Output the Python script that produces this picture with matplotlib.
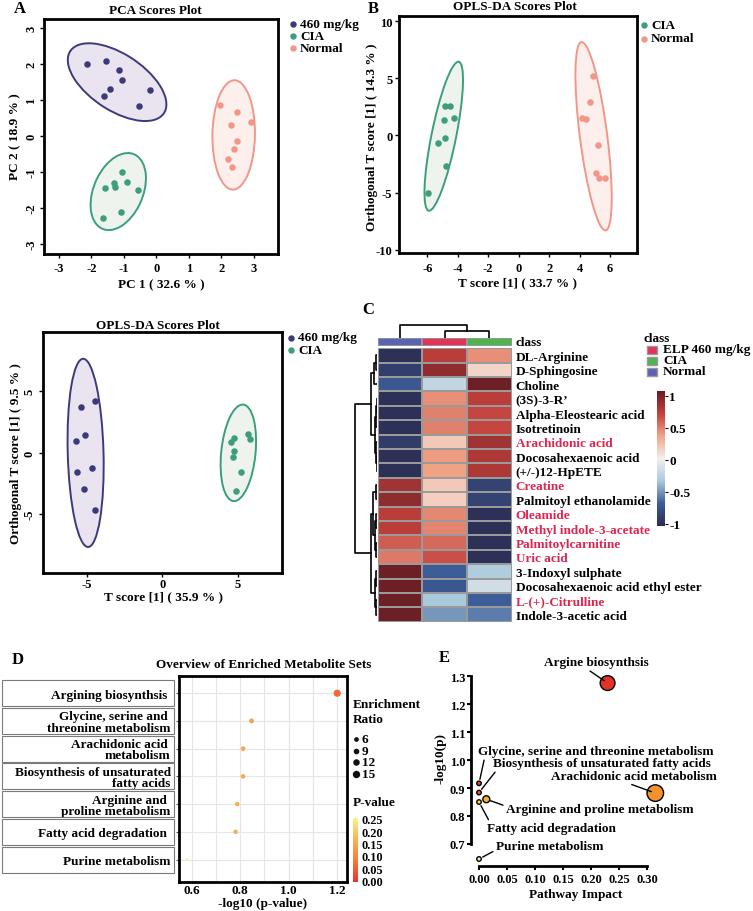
import numpy as np
import matplotlib
matplotlib.use('Agg')
import matplotlib.pyplot as plt
from matplotlib.patches import Ellipse, Rectangle
from matplotlib.lines import Line2D
from matplotlib.colors import LinearSegmentedColormap, Normalize
from matplotlib.colorbar import ColorbarBase
from matplotlib.transforms import blended_transform_factory

plt.rcParams['font.family'] = ['Liberation Serif', 'DejaVu Serif']
plt.rcParams['font.weight'] = 'bold'
plt.rcParams['axes.labelweight'] = 'bold'
plt.rcParams['axes.titleweight'] = 'bold'
plt.rcParams['axes.unicode_minus'] = False

# ---- data ----
# A: PCA scores
pca_460_x = [-2.15, -1.55, -1.15, -1.05, -1.44, -1.6, -0.2, -0.55]
pca_460_y = [2.0, 2.07, 1.82, 1.55, 1.3, 1.1, 1.28, 0.84]
pca_cia_x = [-1.06, -1.3, -1.27, -0.9, -0.58, -1.58, -1.08, -1.63]
pca_cia_y = [-1.0, -1.31, -1.43, -1.27, -1.5, -1.44, -2.12, -2.29]
pca_nor_x = [1.97, 2.47, 2.29, 2.9, 2.48, 2.38, 2.2, 2.32]
pca_nor_y = [0.85, 0.67, 0.31, 0.39, -0.13, -0.37, -0.64, -0.85]

# B: OPLS-DA CIA vs Normal
opb_cia_x = [-4.84, -4.53, -4.9, -4.23, -4.86, -5.28, -4.77, -5.96]
opb_cia_y = [2.57, 2.57, 1.32, 1.56, -0.24, -0.65, -2.65, -5.0]
opb_nor_x = [4.9, 4.66, 4.16, 4.42, 5.23, 5.06, 5.26, 5.65]
opb_nor_y = [5.2, 2.9, 1.53, 1.47, -0.82, -3.32, -3.74, -3.74]

# OPLS-DA 460 mg/kg vs CIA
opc_460_x = [-4.47, -5.37, -5.09, -5.68, -5.62, -4.65, -5.15, -4.47]
opc_460_y = [4.17, 3.71, 1.46, 0.95, -1.54, -1.27, -3.0, -4.63]
opc_cia_x = [4.54, 4.74, 4.74, 4.67, 5.68, 5.79, 5.24, 4.87]
opc_cia_y = [0.89, 1.19, 0.16, -0.33, 1.54, 1.11, -1.6, -3.09]

# C: heatmap (row-scaled)
hm_rows = ['DL-Arginine', 'D-Sphingosine', 'Choline', '(3S)-3-R\u2019',
           'Alpha-Eleostearic acid', 'Isotretinoin', 'Arachidonic acid',
           'Docosahexaenoic acid', '(+/-)12-HpETE', 'Creatine',
           'Palmitoyl ethanolamide', 'Oleamide', 'Methyl indole-3-acetate',
           'Palmitoylcarnitine', 'Uric acid', '3-Indoxyl sulphate',
           'Docosahexaenoic acid ethyl ester', 'L-(+)-Citrulline',
           'Indole-3-acetic acid']
hm_red = ['Arachidonic acid', 'Creatine', 'Oleamide', 'Methyl indole-3-acetate',
          'Palmitoylcarnitine', 'Uric acid', 'L-(+)-Citrulline']
hm_cols = ['Normal', 'ELP 460 mg/kg', 'CIA']
hm_normal = [-1.0, -0.9, -0.72, -1.0, -1.0, -1.0, -0.92, -1.0, -1.0, 0.85,
             0.92, 0.75, 0.75, 0.62, 0.52, 1.05, 1.05, 1.05, 1.05]
hm_elp = [0.75, 0.92, -0.22, 0.45, 0.5, 0.5, 0.2, 0.4, 0.38, 0.2,
          0.17, 0.47, 0.48, 0.58, 0.67, -0.68, -0.72, -0.33, -0.5]
hm_cia = [0.45, 0.15, 1.05, 0.75, 0.7, 0.7, 0.85, 0.8, 0.8, -0.87,
          -0.87, -1.0, -1.0, -1.0, -1.0, -0.3, -0.15, -0.68, -0.58]
# dendrograms: (height, left, right) or leaf index
row_tree = (1.0,
            (0.29, (0.12, (0.06, 0, 1), 2),
             (0.08, (0.04, (0.02, 3, 4), 5), (0.05, 6, (0.02, 7, 8)))),
            (0.29, (0.2, (0.06, 9, 10), (0.1, (0.04, 11, 12), (0.05, 13, 14))),
             (0.1, (0.05, 15, 16), (0.06, 17, 18))))
col_tree = (1.0, 0, (0.48, 1, 2))

# D: enrichment overview
d_sets = ['Argining biosynthsis ', 'Glycine, serine and \nthreonine metabolism',
          'Arachidonic acid \nmetabolism', 'Biosynthesis of unsaturated\nfatty acids',
          'Arginine and \nproline metabolism', 'Fatty acid degradation ',
          'Purine metabolism']
d_logp = [1.2, 0.847, 0.812, 0.812, 0.788, 0.781, 0.581]
d_ratio = [19, 11, 10.5, 10.5, 10, 10, 4]
d_ratio_legend = [6, 9, 12, 15]

# E: pathway impact
e_paths = ['Argine biosynthsis', 'Glycine, serine and threonine metabolism',
           'Biosynthesis of unsaturated fatty acids', 'Arachidonic acid metabolism',
           'Arginine and proline metabolism', 'Fatty acid degradation',
           'Purine metabolism']
e_impact = [0.229, 0.0, 0.0, 0.314, 0.013, 0.0, 0.0]
e_logp = [1.276, 0.917, 0.884, 0.882, 0.86, 0.85, 0.646]

# ---- style ----
C460, F460 = '#3c3b7a', '#e9e4ef'
CCIA, FCIA = '#3b9e7c', '#eef3ee'
CNOR, FNOR = '#f2968a', '#fdf0ec'
RED_LAB = '#e0264f'
e_colors = ['#e4322b', '#e8462a', '#ee5a2b', '#f5922c', '#f6b231', '#f4dc45', '#f7f1a8']
e_offsets = [(-8, 15), (-1, 23), (10, 21), (-75, 12.5), (14, -6.7), (6, -19), (12, 9)]
e_ha = ['center', 'left', 'left', 'left', 'left', 'left', 'left']
e_relpos = [(0.4, 0), (0.03, 0), (0.02, 0), (0.44, 0), (0, 0.7), (0.02, 1), (0, 0.2)]

W, H = 753, 912
fig = plt.figure(figsize=(W / 100, H / 100), dpi=100)
FS = 9.5


def px_axes(x0, y0, x1, y1):
    return fig.add_axes([x0 / W, 1 - y1 / H, (x1 - x0) / W, (y1 - y0) / H])


def ftext(x, y, s, **kw):
    kw.setdefault('fontsize', FS)
    kw.setdefault('va', 'center')
    fig.text(x / W, 1 - y / H, s, **kw)


def fig_dot(x, y, d_px, color, edge=None):
    fig.add_artist(Line2D([x / W], [1 - y / H], transform=fig.transFigure, marker='o',
                          ms=d_px * 0.72, color=color, mec=edge or color, ls='none'))


def conf_ellipse(ax, x, y, edge, face, k=2.4477):
    x = np.asarray(x)
    y = np.asarray(y)
    vals, vecs = np.linalg.eigh(np.cov(x, y))
    vals, vecs = vals[::-1], vecs[:, ::-1]
    ang = np.degrees(np.arctan2(vecs[1, 0], vecs[0, 0]))
    ax.add_patch(Ellipse((x.mean(), y.mean()), 2 * k * np.sqrt(vals[0]),
                         2 * k * np.sqrt(vals[1]), angle=ang, facecolor=face,
                         edgecolor=edge, lw=1.4, zorder=1))


def scores_panel(box, groups, xlim, ylim, xticks, yticks, rot, xpad):
    ax = px_axes(*box)
    for gx, gy, c, f in groups:
        conf_ellipse(ax, gx, gy, c, f)
        ax.scatter(gx, gy, s=22, color=c, zorder=3, lw=0)
    ax.set_xlim(xlim)
    ax.set_ylim(ylim)
    ax.set_xticks(xticks)
    ax.set_yticks(yticks)
    ax.tick_params(direction='out', length=3, width=1, labelsize=9)
    ax.tick_params(axis='x', pad=xpad)
    ax.tick_params(axis='y', pad=2)
    if rot:
        for t in ax.get_yticklabels():
            t.set_rotation(90)
            t.set_va('center')
    for s in ax.spines.values():
        s.set_linewidth(2)
    return ax


# ---- panel A ----
scores_panel((44, 20, 278, 255),
             [(pca_460_x, pca_460_y, C460, F460), (pca_cia_x, pca_cia_y, CCIA, FCIA),
              (pca_nor_x, pca_nor_y, CNOR, FNOR)],
             (-3.46, 3.74), (-3.28, 3.25), range(-3, 4), range(-3, 4), True, 2.5)
ftext(155, 11, 'PCA Scores Plot', ha='center')
ftext(161, 285, 'PC 1 ( 32.6 % )', ha='center')
ftext(15, 137, 'PC 2 ( 18.9 % )', ha='center', rotation=90)
for i, (lab, c) in enumerate(zip(['460 mg/kg', 'CIA', 'Normal'], [C460, CCIA, CNOR])):
    fig_dot(293, 25 + 12.2 * i, 5, c)
    ftext(300, 25 + 12.2 * i, lab)
ftext(14, 9, 'A', fontsize=12)

# ---- panel B ----
scores_panel((399.3, 16.7, 636.7, 254),
             [(opb_cia_x, opb_cia_y, CCIA, FCIA), (opb_nor_x, opb_nor_y, CNOR, FNOR)],
             (-7.84, 7.75), (-10.3, 10.5), range(-6, 7, 2), [-10, -5, 0, 5, 10], False, 3.5)
ftext(515, 7.5, 'OPLS-DA Scores Plot', ha='center')
ftext(518, 283, 'T score [1] ( 33.7 % )', ha='center')
ftext(372, 137, 'Orthogonal T score [1] ( 14.3 % )', ha='center', rotation=90)
for i, (lab, c) in enumerate(zip(['CIA', 'Normal'], [CCIA, CNOR])):
    fig_dot(644, 26 + 13.5 * i, 5, c)
    ftext(651, 26 + 13.5 * i, lab)
ftext(368, 9, 'B', fontsize=12)

# ---- OPLS-DA 460 vs CIA ----
scores_panel((42.7, 333.3, 281.7, 574),
             [(opc_460_x, opc_460_y, C460, F460), (opc_cia_x, opc_cia_y, CCIA, FCIA)],
             (-7.9, 7.9), (-9.8, 9.8), [-5, 0, 5], [-5, 0, 5], True, 0.8)
ftext(158, 326, 'OPLS-DA Scores Plot', ha='center')
ftext(163, 597.5, 'T score [1] ( 35.9 % )', ha='center')
ftext(16, 454, 'Orthogonal T score [1] ( 9.5 % )', ha='center', rotation=90)
for i, (lab, c) in enumerate(zip(['460 mg/kg', 'CIA'], [C460, CCIA])):
    fig_dot(291, 338.5 + 12.5 * i, 5, c)
    ftext(298, 338.5 + 12.5 * i, lab)

# ---- panel C ----
hm_cmap = LinearSegmentedColormap.from_list(
    'hm', ['#2c2c50', '#3c5c98', '#a9c9dc', '#f4efed', '#f1a487', '#c2403c', '#651c22'])
hm_norm = Normalize(-1.04, 1.08)
Z = np.column_stack([hm_normal, hm_elp, hm_cia])
nrow = len(hm_rows)
ax = px_axes(377.7, 349.3, 511.7, 622.7)
ax.pcolormesh(np.arange(4), np.arange(nrow + 1), Z, cmap=hm_cmap, norm=hm_norm,
              edgecolors='#9a9a9a', linewidth=1.2)
ax.set_xlim(0, 3)
ax.set_ylim(nrow, 0)
ax.set_xticks([])
ax.yaxis.tick_right()
ax.set_yticks(np.arange(nrow) + 0.5)
ax.set_yticklabels(hm_rows, fontsize=FS)
ax.tick_params(axis='y', length=0, pad=3)
for t in ax.get_yticklabels():
    if t.get_text() in hm_red:
        t.set_color(RED_LAB)
for s in ax.spines.values():
    s.set_visible(False)

class_colors = {'Normal': '#5a62b4', 'ELP 460 mg/kg': '#e0345a', 'CIA': '#4fb450'}
axc = px_axes(377.7, 339, 511.7, 346.5)
for j, name in enumerate(hm_cols):
    axc.add_patch(Rectangle((j, 0), 1, 1, facecolor=class_colors[name],
                            edgecolor='#9a9a9a', lw=1.2))
axc.set_xlim(0, 3)
axc.set_ylim(0, 1)
axc.axis('off')
ftext(515, 342.5, 'class')


def draw_tree(ax, tree, rows):
    def rec(node):
        if isinstance(node, int):
            return node + 0.5, 0.0
        h, a, b = node
        pa, ha = rec(a)
        pb, hb = rec(b)
        if rows:
            ax.plot([ha, h, h, hb], [pa, pa, pb, pb], color='k', lw=1.2)
        else:
            ax.plot([pa, pa, pb, pb], [ha, h, h, hb], color='k', lw=1.2)
        return (pa + pb) / 2, h
    rec(tree)
    ax.axis('off')


axr = px_axes(345, 349.3, 377, 622.7)
draw_tree(axr, row_tree, True)
axr.set_xlim(32 / 22, 0)
axr.set_ylim(nrow, 0)

axt = px_axes(377.7, 322, 511.7, 338.5)
draw_tree(axt, col_tree, False)
axt.set_xlim(0, 3)
axt.set_ylim(0, 16.5 / 12.8)

ftext(643, 338.5, 'class')
for i, name in enumerate(['ELP 460 mg/kg', 'CIA', 'Normal']):
    yc = 351 + 11 * i
    fig.add_artist(Rectangle((647 / W, 1 - (yc + 4.3) / H), 9.5 / W, 8.6 / H,
                             transform=fig.transFigure, facecolor=class_colors[name],
                             edgecolor='#9a9a9a', lw=1))
    ftext(663, yc - 1, name)

cax = px_axes(657.3, 391.7, 665, 527.3)
cb = ColorbarBase(cax, cmap=hm_cmap, norm=hm_norm)
cb.outline.set_visible(False)
cb.set_ticks([-1, -0.5, 0, 0.5, 1])
cb.set_ticklabels(['-1', '-0.5', '0', '0.5', '1'])
cax.tick_params(length=2, width=0.8, labelsize=FS, pad=1)
ftext(362, 310, 'C', fontsize=12)

# ---- panel D ----
p_cmap = LinearSegmentedColormap.from_list('pv', ['#ef2f27', '#f47c3a', '#f6b257', '#f8f38e'])
p_norm = Normalize(0, 0.25)
pos = np.arange(len(d_sets))[::-1] + 1
axd = px_axes(179, 677.3, 346.7, 883.3)
pvals = np.clip(10 ** -np.asarray(d_logp), 0, 0.25)
d_px = 0.3 * np.asarray(d_ratio) + 1.5
axd.scatter(d_logp, pos, s=(d_px * 0.72) ** 2, c=pvals, cmap=p_cmap, norm=p_norm,
            zorder=3, lw=0)
axd.set_xlim(0.548, 1.239)
axd.set_ylim(0.18, len(d_sets) + 0.61)
axd.set_xticks([0.6, 0.8, 1.0, 1.2])
axd.set_xticklabels(['0.6', '0.8', '1.0', '1.2'])
axd.set_xticks([0.7, 0.9, 1.1], minor=True)
axd.set_yticks(pos)
axd.set_yticklabels(d_sets, fontsize=FS, multialignment='right', linespacing=0.92)
axd.grid(True, which='both', color='#e6e6e6', lw=0.8)
axd.set_axisbelow(True)
axd.tick_params(axis='both', which='major', length=2, color='#555555', labelsize=FS)
axd.tick_params(axis='y', pad=4)
axd.tick_params(axis='x', length=1, pad=0)
axd.tick_params(which='minor', length=0)
for s in axd.spines.values():
    s.set_linewidth(2)
tr = blended_transform_factory(fig.transFigure, axd.transData)
for p in pos:
    axd.add_patch(Rectangle((1.7 / W, p - 0.47), 172.6 / W, 0.94, transform=tr,
                            fill=False, edgecolor='#7a7a7a', lw=0.8, clip_on=False))
ftext(264, 665, 'Overview of Enriched Metabolite Sets', ha='center')
ftext(263, 904, '-log10 (p-value)', ha='center')
ftext(353, 705, 'Enrichment')
ftext(353, 720, 'Ratio')
for i, r in enumerate(d_ratio_legend):
    yc = 740 + 11.7 * i
    fig_dot(356, yc, 0.3 * r + 1.5, '#111111')
    ftext(362, yc, str(r))
ftext(353, 803, 'P-value')
pax = px_axes(352.7, 819, 358.3, 883)
pcb = ColorbarBase(pax, cmap=p_cmap, norm=Normalize(-0.007, 0.254))
pcb.outline.set_visible(False)
pcb.set_ticks([0, 0.05, 0.1, 0.15, 0.2, 0.25])
pcb.set_ticklabels(['0.00', '0.05', '0.10', '0.15', '0.20', '0.25'])
pax.tick_params(length=0, labelsize=8.8, pad=2)
ftext(12, 660, 'D', fontsize=12)

# ---- panel E ----
axe = px_axes(470.7, 650, 680, 866.7)
e_d = 4.5 + 21.5 * np.sqrt(e_impact)
axe.scatter(e_impact, e_logp, s=(e_d * 0.72) ** 2, c=e_colors, edgecolors='k',
            linewidths=1, zorder=3, clip_on=False)
for lab, xv, yv, off, ha, rp in zip(e_paths, e_impact, e_logp, e_offsets, e_ha, e_relpos):
    axe.annotate(lab, (xv, yv), xytext=off, textcoords='offset points', ha=ha,
                 va='center', fontsize=FS,
                 arrowprops=dict(arrowstyle='-', color='k', lw=1, relpos=rp,
                                 shrinkA=0, shrinkB=3))
axe.set_xlim(-0.0148, 0.358)
axe.set_ylim(0.622, 1.398)
axe.set_xticks(np.arange(0, 0.31, 0.05))
axe.set_xticklabels(['%.2f' % v for v in np.arange(0, 0.31, 0.05)])
axe.set_yticks(np.arange(0.7, 1.31, 0.1))
axe.set_yticklabels(['%.1f' % v for v in np.arange(0.7, 1.31, 0.1)])
axe.spines['left'].set_bounds(0.7, 1.3)
axe.spines['bottom'].set_bounds(0, 0.3)
for side in ['top', 'right']:
    axe.spines[side].set_visible(False)
for side in ['left', 'bottom']:
    axe.spines[side].set_linewidth(2)
axe.tick_params(direction='out', length=3, width=1.5, labelsize=9, pad=1)
axe.tick_params(axis='x', pad=2.5)
axe.set_xlabel('Pathway Impact', fontsize=FS, labelpad=2)
axe.set_ylabel('-log10(p)', fontsize=FS, labelpad=2)
ftext(439, 658, 'E', fontsize=12)

fig.savefig('out.png', dpi=100)
